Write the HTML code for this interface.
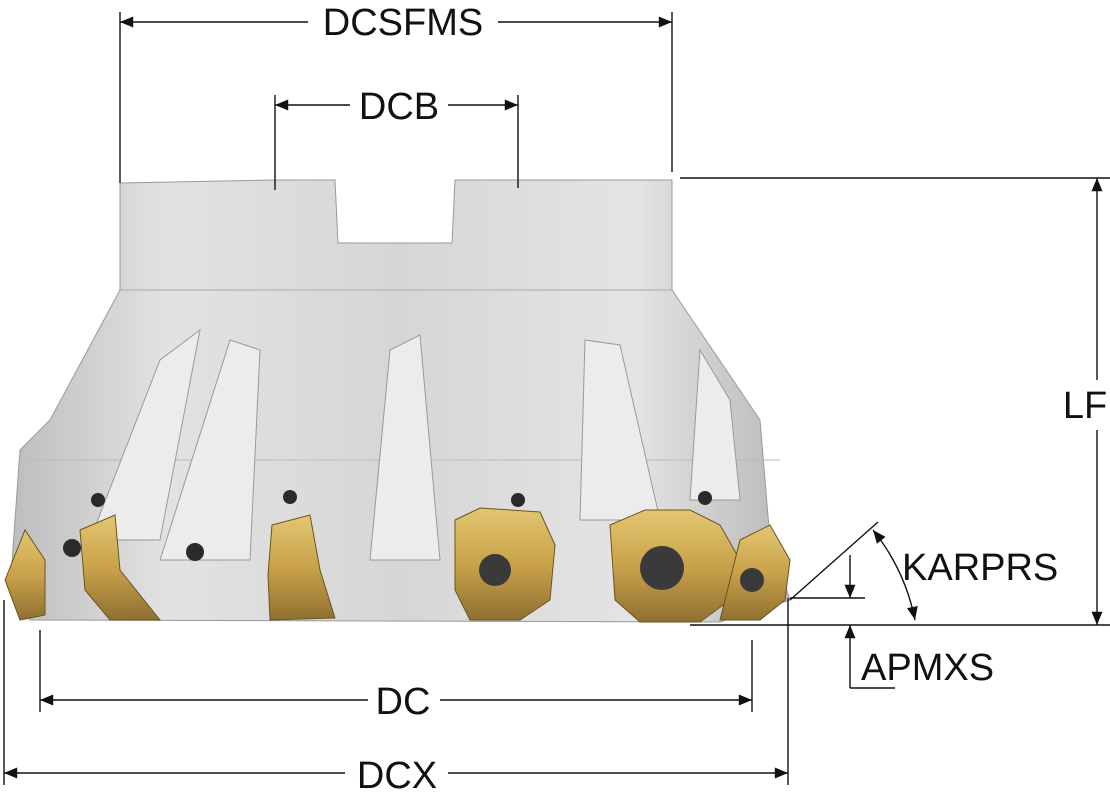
<!DOCTYPE html>
<html><head><meta charset="utf-8"><style>
html,body{margin:0;padding:0;background:#fff;}
svg{display:block;}
text{font-family:"Liberation Sans",sans-serif;font-size:38px;fill:#111;}
</style></head><body>
<svg width="1110" height="802" viewBox="0 0 1110 802" xmlns="http://www.w3.org/2000/svg">
<defs>
<marker id="a" viewBox="0 0 12 10" refX="12" refY="5" markerWidth="14" markerHeight="11" markerUnits="userSpaceOnUse" orient="auto-start-reverse"><path d="M0,0L12,5L0,10z" fill="#111"/></marker>
<linearGradient id="g1" x1="0" x2="1" y1="0" y2="0">
<stop offset="0" stop-color="#bdbdbd"/><stop offset="0.2" stop-color="#e2e2e2"/><stop offset="0.5" stop-color="#d6d6d6"/><stop offset="0.8" stop-color="#e4e4e4"/><stop offset="1" stop-color="#b8b8b8"/></linearGradient>
<linearGradient id="g2" x1="0" x2="0" y1="0" y2="1"><stop offset="0" stop-color="#e3c672"/><stop offset="0.5" stop-color="#c9a24a"/><stop offset="1" stop-color="#8f7030"/></linearGradient>
</defs>
<path d="M120,183 L275,180 L335,180 L338,243 L452,243 L455,180 L672,180 L672,290 L760,420 L770,540 L790,600 L720,622 L30,620 L10,590 L20,450 L50,420 L120,290 Z" fill="url(#g1)" stroke="#999" stroke-width="1"/>
<path d="M120,290 L672,290" stroke="#aaa"/>
<path d="M20,460 L780,460" stroke="#bbb"/>
<g fill="#ececec" stroke="#999">
<path d="M90,540 L160,360 L200,330 L160,540 Z"/>
<path d="M160,560 L230,340 L260,350 L250,560 Z"/>
<path d="M370,560 L390,350 L420,335 L440,560 Z"/>
<path d="M580,520 L585,340 L620,345 L660,520 Z"/>
<path d="M690,500 L700,350 L730,400 L740,500 Z"/>
</g>
<g fill="#2a2a2a"><circle cx="72" cy="548" r="9"/><circle cx="195" cy="552" r="9"/><circle cx="98" cy="500" r="7"/><circle cx="290" cy="497" r="7"/><circle cx="518" cy="500" r="7"/><circle cx="705" cy="498" r="7"/></g>
<g fill="url(#g2)" stroke="#6b5420">
<path d="M5,580 L25,530 L45,560 L45,615 L20,620 Z"/>
<path d="M80,530 L115,515 L120,570 L160,620 L110,620 L85,590 Z"/>
<path d="M272,525 L310,515 L320,570 L335,618 L270,620 L268,575 Z"/>
<path d="M455,520 L480,508 L540,512 L555,545 L550,600 L520,620 L470,620 L455,590 Z"/>
<path d="M610,525 L645,510 L690,510 L720,525 L740,560 L730,600 L700,622 L640,622 L615,600 Z"/>
<path d="M740,540 L770,525 L790,560 L785,600 L760,620 L720,620 Z"/>
</g>
<g fill="#3a3a3a"><circle cx="495" cy="570" r="16"/><circle cx="662" cy="568" r="22"/><circle cx="752" cy="580" r="12"/></g>
<g stroke="#111" stroke-width="1.4" fill="none">
<line x1="120" y1="12" x2="120" y2="183"/><line x1="672" y1="12" x2="672" y2="172"/>
<line x1="120" y1="22" x2="308" y2="22" marker-start="url(#a)"/><line x1="498" y1="22" x2="672" y2="22" marker-end="url(#a)"/>
<line x1="275" y1="95" x2="275" y2="190"/><line x1="518" y1="95" x2="518" y2="188"/>
<line x1="275" y1="105" x2="350" y2="105" marker-start="url(#a)"/><line x1="448" y1="105" x2="518" y2="105" marker-end="url(#a)"/>
<line x1="680" y1="178" x2="1110" y2="178"/><line x1="690" y1="625" x2="1110" y2="625"/>
<line x1="1097" y1="178" x2="1097" y2="380" marker-start="url(#a)"/><line x1="1097" y1="430" x2="1097" y2="625" marker-end="url(#a)"/>
<line x1="40" y1="630" x2="40" y2="712"/><line x1="752" y1="640" x2="752" y2="712"/>
<line x1="40" y1="700" x2="368" y2="700" marker-start="url(#a)"/><line x1="440" y1="700" x2="752" y2="700" marker-end="url(#a)"/>
<line x1="4" y1="600" x2="4" y2="785"/><line x1="788" y1="598" x2="788" y2="785"/>
<line x1="4" y1="773" x2="345" y2="773" marker-start="url(#a)"/><line x1="448" y1="773" x2="788" y2="773" marker-end="url(#a)"/>
<line x1="790" y1="600" x2="878" y2="522"/>
<path d="M873,530 Q905,570 915,620" marker-start="url(#a)" marker-end="url(#a)"/>
<line x1="790" y1="598" x2="865" y2="598"/>
<line x1="850" y1="555" x2="850" y2="598" marker-end="url(#a)"/>
<line x1="850" y1="688" x2="850" y2="625" marker-end="url(#a)"/>
<line x1="850" y1="688" x2="895" y2="688"/>
</g>
<text x="403" y="35" text-anchor="middle">DCSFMS</text>
<text x="399" y="119" text-anchor="middle">DCB</text>
<text x="1085" y="418" text-anchor="middle">LF</text>
<text x="403" y="714" text-anchor="middle">DC</text>
<text x="397" y="788" text-anchor="middle">DCX</text>
<text x="902" y="580">KARPRS</text>
<text x="861" y="680">APMXS</text>
</svg>
</body></html>
